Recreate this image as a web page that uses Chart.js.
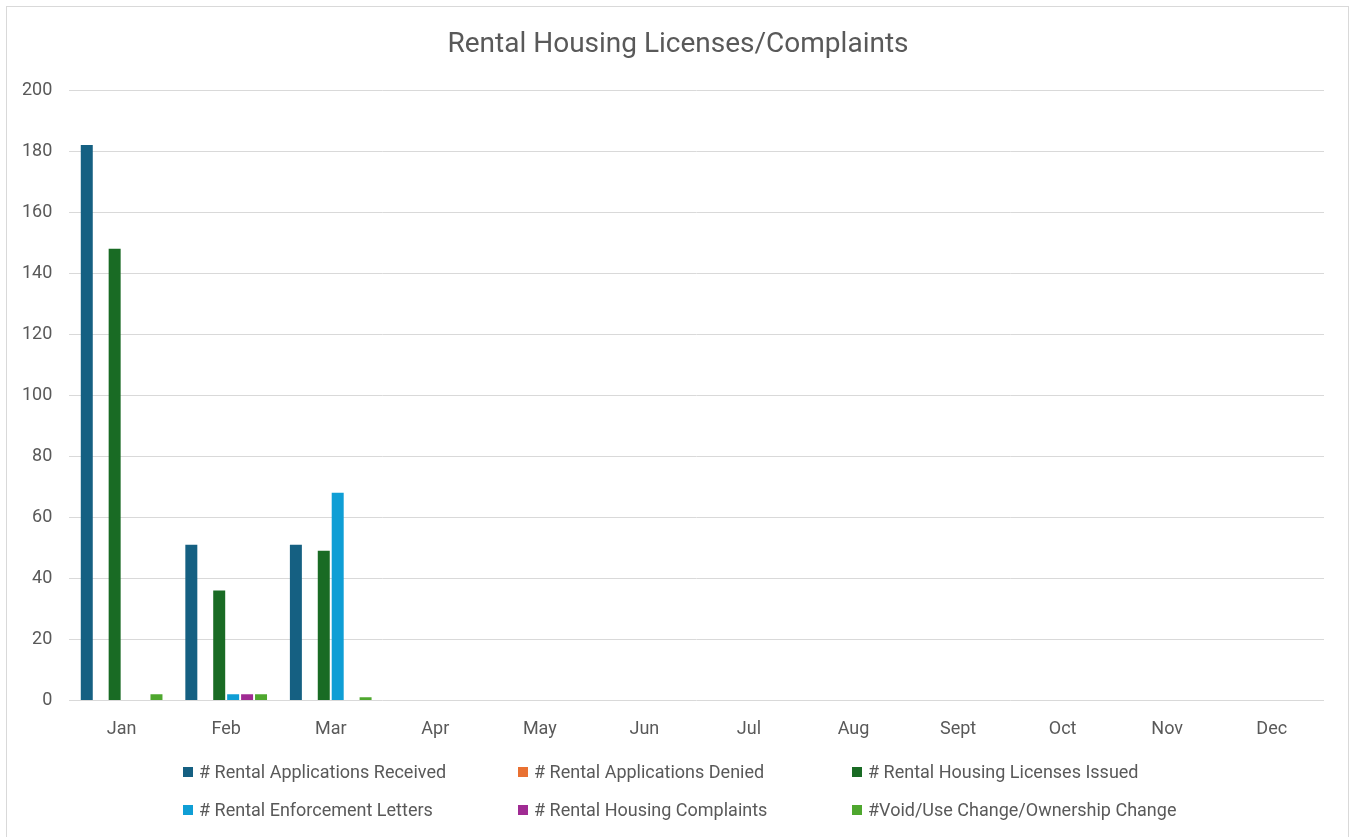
<!DOCTYPE html>
<html>
<head>
<meta charset="utf-8">
<script src="https://cdn.jsdelivr.net/npm/chart.js@4"></script>
<style>
  html, body { margin: 0; padding: 0; background: #fff; }
  body { width: 1349px; height: 837px; position: relative; overflow: hidden; font-family: Roboto, sans-serif; }
  #frame { position: absolute; left: 6px; top: 6px; width: 1343px; height: 840px; border: 1px solid #d9d9d9; box-sizing: border-box; }
  #wrap { position: absolute; left: 0; top: 0; width: 1349px; height: 837px; }
  #title { position: absolute; left: 378px; width: 600px; top: 26px; text-align: center; font-size: 28px; line-height: 34px; color: #595959; white-space: nowrap; }
  #legend { position: absolute; left: 0; top: 0; }
  .item { position: absolute; display: flex; align-items: center; font-size: 18px; color: #595959; white-space: nowrap; }
  .box { width: 10px; height: 10px; margin-right: 6px; }
</style>
</head>
<body>
<div id="frame"></div>
<div id="wrap"><canvas id="chart" width="1349" height="837"></canvas></div>
<div id="title"></div>
<div id="legend"></div>
<script>
const chartTitle = 'Rental Housing Licenses/Complaints';
const months = ['Jan', 'Feb', 'Mar', 'Apr', 'May', 'Jun', 'Jul', 'Aug', 'Sept', 'Oct', 'Nov', 'Dec'];

const appsReceived   = [182, 51, 51, null, null, null, null, null, null, null, null, null];
const appsDenied     = [0, 0, 0, null, null, null, null, null, null, null, null, null];
const licensesIssued = [148, 36, 49, null, null, null, null, null, null, null, null, null];
const enforcement    = [0, 2, 68, null, null, null, null, null, null, null, null, null];
const complaints     = [0, 2, 0, null, null, null, null, null, null, null, null, null];
const voidChange     = [2, 2, 1, null, null, null, null, null, null, null, null, null];

const series = [
  { label: '# Rental Applications Received', data: appsReceived, color: '#156082' },
  { label: '# Rental Applications Denied', data: appsDenied, color: '#E97132' },
  { label: '# Rental Housing Licenses Issued', data: licensesIssued, color: '#196B24' },
  { label: '# Rental Enforcement Letters', data: enforcement, color: '#0F9ED5' },
  { label: '# Rental Housing Complaints', data: complaints, color: '#A02B93' },
  { label: '#Void/Use Change/Ownership Change', data: voidChange, color: '#4EA72E' }
];

const legendPos = [
  [183, 773], [518, 773], [852, 773],
  [183, 811], [518, 811], [852, 811]
];

const ctx = document.getElementById('chart').getContext('2d');
new Chart(ctx, {
  type: 'bar',
  data: {
    labels: months,
    datasets: series.map(s => ({
      label: s.label,
      data: s.data,
      backgroundColor: s.color,
      borderWidth: 0,
      categoryPercentage: 0.8,
      barPercentage: 0.86
    }))
  },
  options: {
    responsive: false,
    animation: false,
    layout: { padding: { left: 5, right: 25, top: 90, bottom: 87 } },
    plugins: {
      legend: { display: false },
      tooltip: { enabled: false },
      title: { display: false }
    },
    scales: {
      x: {
        grid: { display: false },
        border: { display: false },
        ticks: { color: '#595959', font: { family: 'Roboto', size: 18 }, padding: 10 }
      },
      y: {
        min: 0,
        max: 200,
        ticks: { stepSize: 20, color: '#595959', font: { family: 'Roboto', size: 18 }, padding: 17 },
        grid: { color: '#d9d9d9', lineWidth: 1, drawTicks: false },
        border: { display: false }
      }
    }
  }
});

document.getElementById('title').textContent = chartTitle;
document.getElementById('legend').innerHTML = series.map((s, i) =>
  `<div class="item" style="left:${legendPos[i][0]}px;top:${legendPos[i][1] - 12}px">
     <span class="box" style="background:${s.color}"></span><span>${s.label}</span>
   </div>`
).join('');
</script>
</body>
</html>
